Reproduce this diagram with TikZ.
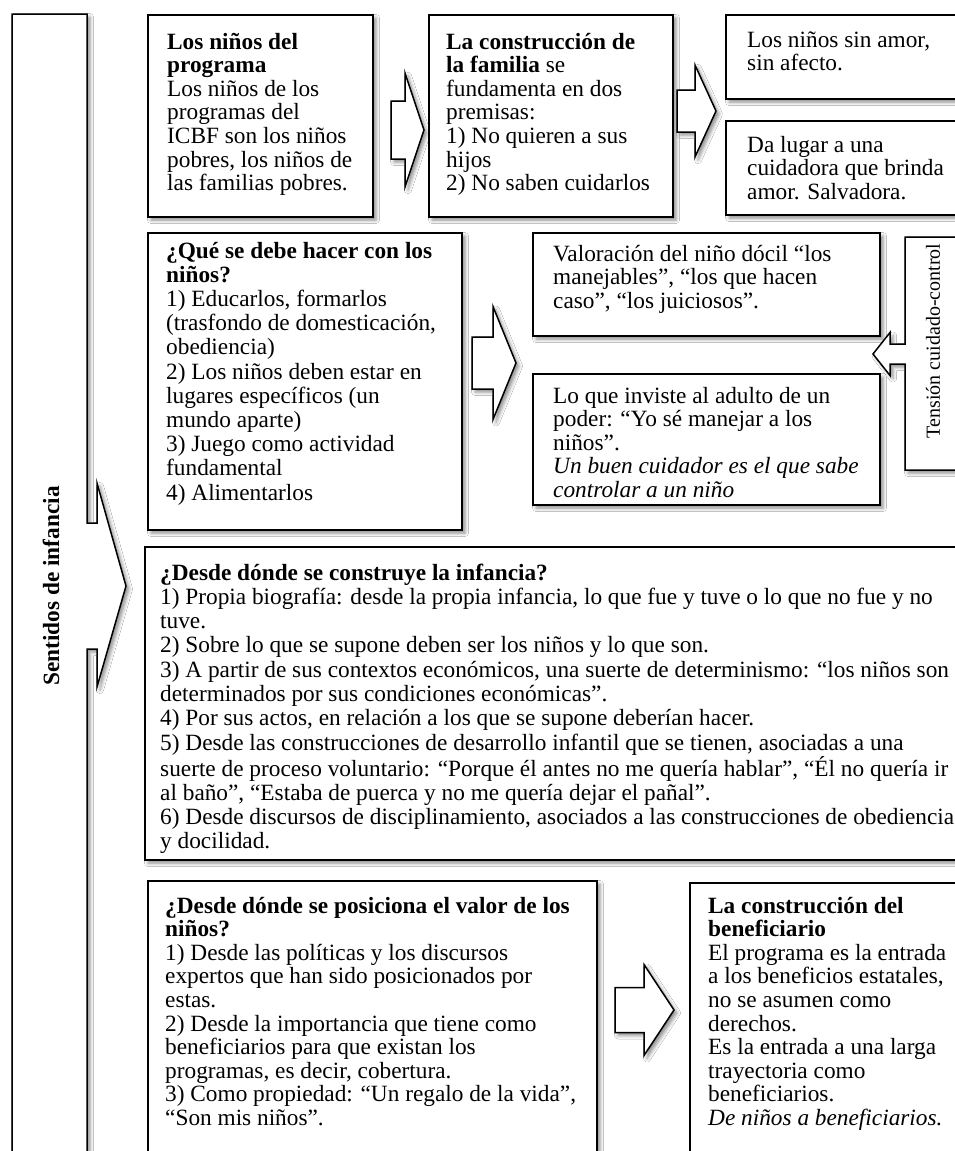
\documentclass[tikz,border=0pt]{standalone}
\usepackage{fontspec}
\setmainfont{Liberation Serif}
\usetikzlibrary{shadows.blur}

\tikzset{
  softshadow/.style={blur shadow={shadow xshift=3pt, shadow yshift=-3pt,
      shadow blur radius=3.5pt, shadow opacity=45}},
  outline/.style={draw=black, line width=1.5pt, fill=white, line join=miter, softshadow},
  panel/.style={outline, rectangle, inner sep=0pt, outer sep=0pt, anchor=north west},
  txt/.style={inner sep=0pt, anchor=base west, font=\fontsize{23.3}{23.6}\selectfont},
  widetxt/.style={txt, font=\fontsize{23.3}{24.2}\selectfont},
  sidetxt/.style={inner sep=0pt, rotate=90, font=\fontsize{23.3}{23.6}\selectfont},
}

% left-aligned block of lines; the node's baseline is the first line's baseline
\newcommand\lines[1]{\parbox[t]{820pt}{\raggedright #1}}

% right-pointing block arrow: tip x, tip y, tail x, neck x, shaft half-height, head half-height
\newcommand\blockarrow[6]{%
  \draw[outline] (#3,{#2-#5}) -- (#4,{#2-#5}) -- (#4,{#2-#6}) -- (#1,#2)
    -- (#4,{#2+#6}) -- (#4,{#2+#5}) -- (#3,{#2+#5}) -- cycle;}

\begin{document}
\begin{tikzpicture}[x=1pt,y=-1pt]
\useasboundingbox (0,0) rectangle (955,1151);
\fill[white] (0,0) rectangle (955,1151);

% side bar with its arrow
\draw[outline] (12,14) -- (87,14) -- (87,523) -- (97,523) -- (97,483) -- (126,586)
  -- (97,687) -- (97,649) -- (87,649) -- (87,1175) -- (12,1175) -- cycle;
\node[sidetxt, font=\fontsize{23.3}{23.6}\selectfont\bfseries] (sentidos) at (51,586) {Sentidos de infancia};

% first row
\node[panel, minimum width=225pt, minimum height=202pt] (programa) at (148,15) {};
\node[txt] (programaT) at (167,49) {\lines{\textbf{Los niños del}\\\textbf{programa}\\Los niños de los\\programas del\\ICBF son los niños\\pobres, los niños de\\las familias pobres.}};

\blockarrow{424}{130}{391}{405}{29}{57}

\node[panel, minimum width=244pt, minimum height=202pt] (familia) at (429,15) {};
\node[txt] (familiaT) at (446,49) {\lines{\textbf{La construcción de}\\\textbf{la familia} se\\fundamenta en dos\\premisas:\\1) No quieren a sus\\hijos\\2) No saben cuidarlos}};

\blockarrow{716}{111}{677}{695}{21}{46}

\node[panel, minimum width=240pt, minimum height=84pt] (sinamor) at (726,15) {};
\node[txt] (sinamorT) at (747,47) {\lines{Los niños sin amor,\\sin afecto.}};

\node[panel, minimum width=240pt, minimum height=94pt] (cuidadora) at (726,121) {};
\node[txt] (cuidadoraT) at (747,152) {\lines{Da lugar a una\\cuidadora que brinda\\amor. Salvadora.}};

% second row
\node[panel, minimum width=314pt, minimum height=297pt] (hacer) at (148,233) {};
\node[widetxt] (hacerT) at (166,258) {\lines{\textbf{¿Qué se debe hacer con los}\\\textbf{niños?}\\1) Educarlos, formarlos\\(trasfondo de domesticación,\\obediencia)\\2) Los niños deben estar en\\lugares específicos (un\\mundo aparte)\\3) Juego como actividad\\fundamental\\4) Alimentarlos}};

\blockarrow{516}{363}{472}{493}{26}{56.5}

\node[panel, minimum width=347pt, minimum height=103pt] (docil) at (533,233) {};
\node[txt] (docilT) at (553,261) {\lines{Valoración del niño dócil “los\\manejables”, “los que hacen\\caso”, “los juiciosos”.}};

\node[panel, minimum width=347pt, minimum height=131pt] (poder) at (533,374) {};
\node[txt] (poderT) at (553,403) {\lines{Lo que inviste al adulto de un\\poder: “Yo sé manejar a los\\niños”.\\\textit{Un buen cuidador es el que sabe}\\\textit{controlar a un niño}}};

% callout pointing back at the two boxes
\draw[outline] (965,237) -- (905,237) -- (905,344) -- (890,344) -- (890,332.5) -- (873,354)
  -- (890,375.5) -- (890,364) -- (905,364) -- (905,470) -- (965,470) -- cycle;
\node[sidetxt, font=\fontsize{20}{22}\selectfont] (tension) at (933,341) {Tensión cuidado-control};

% third row
\node[panel, minimum width=825pt, minimum height=313pt] (construye) at (145,547) {};
\node[widetxt, font=\fontsize{23.3}{24.3}\selectfont] (construyeT) at (160,580) {\lines{\textbf{¿Desde dónde se construye la infancia?}\\1) Propia biografía: desde la propia infancia, lo que fue y tuve o lo que no fue y no\\tuve.\\2) Sobre lo que se supone deben ser los niños y lo que son.\\3) A partir de sus contextos económicos, una suerte de determinismo: “los niños son\\determinados por sus condiciones económicas”.\\4) Por sus actos, en relación a los que se supone deberían hacer.\\5) Desde las construcciones de desarrollo infantil que se tienen, asociadas a una\\suerte de proceso voluntario: “Porque él antes no me quería hablar”, “Él no quería ir\\al baño”, “Estaba de puerca y no me quería dejar el pañal”.\\6) Desde discursos de disciplinamiento, asociados a las construcciones de obediencia\\y docilidad.}};

% fourth row
\node[panel, minimum width=449pt, minimum height=300pt] (valor) at (148,881) {};
\node[txt] (valorT) at (165,913) {\lines{\textbf{¿Desde dónde se posiciona el valor de los}\\\textbf{niños?}\\1) Desde las políticas y los discursos\\expertos que han sido posicionados por\\estas.\\2) Desde la importancia que tiene como\\beneficiarios para que existan los\\programas, es decir, cobertura.\\3) Como propiedad: “Un regalo de la vida”,\\“Son mis niños”.}};

\blockarrow{674}{1010}{615}{644}{22.5}{45.5}

\node[panel, minimum width=280pt, minimum height=300pt] (beneficiario) at (690,883) {};
\node[txt] (beneficiarioT) at (708,913) {\lines{\textbf{La construcción del}\\\textbf{beneficiario}\\El programa es la entrada\\a los beneficios estatales,\\no se asumen como\\derechos.\\Es la entrada a una larga\\trayectoria como\\beneficiarios.\\\textit{De niños a beneficiarios.}}};
\end{tikzpicture}
\end{document}
